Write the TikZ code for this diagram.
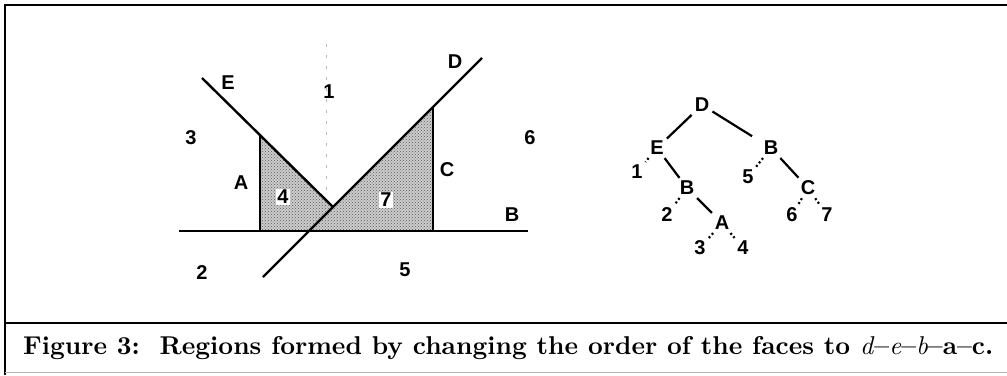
\documentclass[tikz,border=0pt]{standalone}
\usepackage{fontspec}
\newfontfamily\labfont{Liberation Sans}
\usetikzlibrary{patterns}
\begin{document}
\begin{tikzpicture}[x=1pt,y=-1pt,
  lab/.style={font=\labfont\bfseries\fontsize{20}{20}\selectfont, inner sep=1pt},
  tn/.style={font=\labfont\bfseries\fontsize{20}{20}\selectfont, inner sep=3pt},
  geo/.style={line width=2.4pt, line cap=butt},
  shade/.style={preaction={fill=gray!40}, pattern=crosshatch dots, pattern color=gray!70!black},
  solidedge/.style={line width=2.2pt},
  dotedge/.style={line width=2.2pt, dash pattern=on 2pt off 2.5pt},
  frame/.style={line width=2.6pt}
]
\useasboundingbox (0,0) rectangle (1007,375);
% frame
\draw[frame] (1007,5) -- (5,5) -- (5,375);
\draw[frame] (5,323) -- (1007,323);
\draw[line width=0.6pt, gray!60] (5,372) -- (1007,372);

% geometry points
\coordinate (Bl) at (179,231);
\coordinate (Br) at (528,231);
\coordinate (Et) at (202,78);
\coordinate (ED) at (333,207);
\coordinate (Dt) at (482,58);
\coordinate (Db) at (263,277);
\coordinate (DB) at (309,231);
\coordinate (At) at (260,136);
\coordinate (Ab) at (260,231);
\coordinate (Ct) at (433,108);
\coordinate (Cb) at (433,231);

% shaded regions
\fill[shade] (At) -- (ED) -- (DB) -- (Ab) -- cycle;
\fill[shade] (DB) -- (Ct) -- (Cb) -- cycle;

% faint dotted line
\draw[gray!55, line width=0.8pt, dash pattern=on 3pt off 8pt] (326,44) -- (326,190);

% lines
\draw[geo] (Bl) -- (Br);
\draw[geo] (Et) -- (ED);
\draw[geo] (Dt) -- (Db);
\draw[geo] (At) -- (Ab);
\draw[geo] (Ct) -- (Cb);

% labels
\node[lab] (lE) at (228,83) {E};
\node[lab] (lD) at (455,62) {D};
\node[lab] (l1) at (329,92) {1};
\node[lab] (l3) at (191,138) {3};
\node[lab] (l6) at (530,138) {6};
\node[lab] (lA) at (241,183) {A};
\node[lab] (lC) at (447,170) {C};
\node[lab, fill=white] (l4) at (283,197) {4};
\node[lab, fill=white] (l7) at (386,200) {7};
\node[lab] (lB) at (512,215) {B};
\node[lab] (l2) at (202,273) {2};
\node[lab] (l5) at (405,270) {5};

% tree
\node[tn] (tD) at (702,105) {D};
\node[tn] (tE) at (657,148) {E};
\node[tn] (tB) at (771,148) {B};
\node[tn] (t1) at (637,172) {1};
\node[tn] (tB2) at (687,188) {B};
\node[tn] (t5) at (748,177) {5};
\node[tn] (tC) at (808,188) {C};
\node[tn] (t2) at (667,215) {2};
\node[tn] (tA) at (722,223) {A};
\node[tn] (t6) at (792,215) {6};
\node[tn] (t7) at (827,215) {7};
\node[tn] (t3) at (700,248) {3};
\node[tn] (t4) at (743,248) {4};

\draw[solidedge] (tD) -- (tE);
\draw[solidedge, shorten >=10pt] (tD) -- (tB);
\draw[dotedge] (tE) -- (t1);
\draw[solidedge] (tE) -- (tB2);
\draw[dotedge] (tB2) -- (t2);
\draw[solidedge] (tB2) -- (tA);
\draw[dotedge] (tA) -- (t3);
\draw[dotedge] (tA) -- (t4);
\draw[dotedge] (tB) -- (t5);
\draw[solidedge] (tB) -- (tC);
\draw[dotedge] (tC) -- (t6);
\draw[dotedge] (tC) -- (t7);

% caption
\node[anchor=west, inner sep=0pt] (cap) at (23,348) {\resizebox{970pt}{!}{\bfseries Figure 3:\ \ Regions formed by changing the order of the faces to \textmd{\textit{d}}--\textmd{\textit{e}}--\textmd{\textit{b}}--a--c.}};
\end{tikzpicture}
\end{document}
